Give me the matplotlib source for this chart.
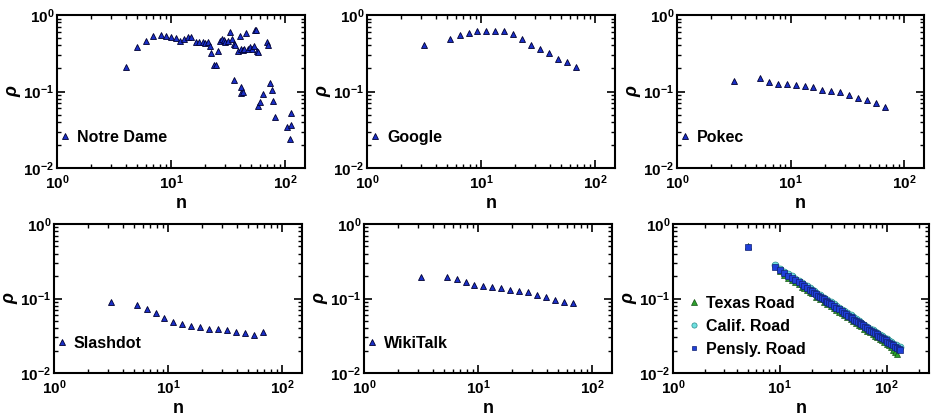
import matplotlib.pyplot as plt
from matplotlib.ticker import LogLocator

plt.rcParams.update({
    "font.family": "Liberation Sans",
    "font.weight": "bold",
    "mathtext.fontset": "custom",
    "mathtext.rm": "Liberation Sans:bold",
    "mathtext.it": "Liberation Sans:bold:italic",
    "mathtext.bf": "Liberation Sans:bold",
    "mathtext.default": "bf",
    "axes.linewidth": 1.5,
    "xtick.direction": "in",
    "ytick.direction": "in",
    "xtick.top": True,
    "ytick.right": True,
})

# Notre Dame
nd_n = [4.0, 5.0, 6.0, 7.0, 8.1, 9.0, 10, 11, 12, 13, 14, 15, 16.5, 17.7, 19, 20, 21, 22,
        22.6, 23.8, 25, 25.8, 27, 28, 29, 30, 31.5, 33, 34, 35.6, 36.7, 38.6, 40, 41, 42.5,
        44, 46, 47.8, 49, 51.5, 53, 54.5, 56, 56.5, 58.5, 69, 70.5,
        36, 41.5, 41.5, 43, 58.5, 60, 64, 74.7, 76.5, 78, 82, 105, 112, 112, 110]
nd_rho = [0.21, 0.38, 0.46, 0.53, 0.54, 0.53, 0.52, 0.50, 0.46, 0.49, 0.52, 0.51, 0.44, 0.44,
          0.45, 0.43, 0.45, 0.39, 0.32, 0.22, 0.22, 0.34, 0.46, 0.49, 0.47, 0.44, 0.46, 0.60,
          0.48, 0.42, 0.41, 0.34, 0.53, 0.36, 0.35, 0.36, 0.59, 0.36, 0.38, 0.36, 0.39, 0.64,
          0.64, 0.34, 0.33, 0.44, 0.41,
          0.142, 0.114, 0.095, 0.10, 0.065, 0.072, 0.093, 0.131, 0.105, 0.075, 0.047, 0.034,
          0.037, 0.053, 0.024]

# binned networks share the same n positions
bin_n = [3.16, 5.4, 6.5, 7.8, 9.3, 11.1, 13.3, 15.9, 19.1, 22.9, 27.5, 32.9, 39.4, 47.2, 56.6, 67.8]
google_rho = [0.41, 0.49, 0.55, 0.59, 0.61, 0.62, 0.62, 0.62, 0.57, 0.48, 0.41, 0.36, 0.32,
              0.27, 0.245, 0.206]
pokec_rho = [0.139, 0.149, 0.135, 0.127, 0.126, 0.122, 0.119, 0.114, 0.106, 0.103, 0.0995,
             0.091, 0.083, 0.078, 0.070, 0.063]
slashdot_rho = [0.091, 0.082, 0.073, 0.064, 0.054, 0.049, 0.045, 0.043, 0.041, 0.039, 0.039,
                0.038, 0.036, 0.034, 0.032, 0.036]
wikitalk_rho = [0.195, 0.195, 0.183, 0.166, 0.151, 0.149, 0.142, 0.140, 0.132, 0.125, 0.124,
                0.113, 0.104, 0.095, 0.091, 0.086]

# road networks
texas_n = [5, 10, 11, 12, 13, 14, 15, 16, 17, 18, 19, 20, 22, 24, 26, 28, 30, 32, 34, 36, 38,
           40, 43, 46, 49, 52, 55, 58, 62, 66, 70, 74, 78, 82, 86, 90, 95, 100, 105, 110, 115,
           120, 126]
texas_rho = [0.50, 0.232, 0.206, 0.190, 0.178, 0.164, 0.155, 0.144, 0.138, 0.129, 0.123, 0.117,
             0.106, 0.098, 0.0910, 0.0850, 0.0795, 0.0748, 0.0706, 0.0668, 0.0634, 0.0604,
             0.0563, 0.0528, 0.0496, 0.0468, 0.0443, 0.0421, 0.0394, 0.0371, 0.0350, 0.0331,
             0.0315, 0.0300, 0.0286, 0.0274, 0.0259, 0.0246, 0.0234, 0.0222, 0.0205, 0.0190,
             0.0182]
calif_n = [9, 10, 11, 12, 13, 14, 15, 16, 17, 18, 19, 20, 21, 22, 24, 26, 28, 30, 32, 34, 36,
           38, 40, 43, 46, 49, 52, 55, 58, 62, 66, 70, 74, 78, 82, 86, 90, 95, 100, 105, 110,
           116, 122, 128, 135]
calif_rho = [0.282, 0.250, 0.228, 0.212, 0.198, 0.184, 0.173, 0.162, 0.154, 0.146, 0.138, 0.132,
             0.126, 0.120, 0.111, 0.102, 0.0955, 0.0890, 0.0838, 0.0790, 0.0748, 0.0710, 0.0676,
             0.0630, 0.0592, 0.0557, 0.0526, 0.0498, 0.0473, 0.0444, 0.0418, 0.0395, 0.0375,
             0.0357, 0.0340, 0.0325, 0.0311, 0.0296, 0.0282, 0.0270, 0.0258, 0.0245, 0.0234,
             0.0226, 0.0222]
pensly_n = [5, 9, 10, 11, 12, 13, 14, 15, 16, 17, 18, 19, 20, 21, 22, 23, 24, 25, 26, 27, 28, 29,
            30, 32, 34, 36, 38, 40, 42, 44, 46, 48, 50, 52, 54, 56, 58, 60, 63, 66, 69, 72, 75,
            78, 81, 84, 87, 90, 94, 98, 102, 106, 110, 115, 120, 125, 130, 135]
pensly_rho = [0.49, 0.268, 0.242, 0.221, 0.203, 0.189, 0.176, 0.164, 0.155, 0.146, 0.138, 0.131,
              0.125, 0.119, 0.114, 0.109, 0.105, 0.101, 0.0973, 0.0939, 0.0906, 0.0877, 0.0849,
              0.0798, 0.0753, 0.0713, 0.0677, 0.0645, 0.0616, 0.0589, 0.0564, 0.0542, 0.0521,
              0.0502, 0.0485, 0.0467, 0.0452, 0.0438, 0.0418, 0.0400, 0.0383, 0.0368, 0.0353,
              0.0341, 0.0329, 0.0317, 0.0307, 0.0297, 0.0285, 0.0274, 0.0264, 0.0255, 0.0245,
              0.0236, 0.0226, 0.0218, 0.0209, 0.0201]

blue = "#1a2fc8"

fig = plt.figure(figsize=(9.31, 4.2), dpi=100)
W, H = 931, 420
# axes boxes in pixels: left, top, right, bottom
boxes = [(57, 15, 305, 168), (367, 15, 615, 168), (677, 15, 924, 168),
         (54, 224, 302, 373), (364, 224, 612, 373), (673, 224, 929, 373)]
axes = [fig.add_axes([l / W, 1 - b / H, (r - l) / W, (b - t) / H]) for l, t, r, b in boxes]


def style(ax, xmax):
    ax.set_xscale("log")
    ax.set_yscale("log")
    ax.set_xlim(1, xmax)
    ax.set_ylim(0.01, 1)
    ax.xaxis.set_major_locator(LogLocator(base=10, numticks=5))
    ax.yaxis.set_major_locator(LogLocator(base=10, numticks=5))
    ax.xaxis.set_minor_locator(LogLocator(base=10, subs=range(2, 10), numticks=20))
    ax.yaxis.set_minor_locator(LogLocator(base=10, subs=range(2, 10), numticks=20))
    ax.tick_params(which="major", length=6, width=1.2, labelsize=11, pad=2)
    ax.tick_params(axis="x", which="major", pad=4)
    ax.tick_params(which="minor", length=3, width=1.0)
    ax.set_xlabel("n", fontsize=13, fontweight="bold", labelpad=2)
    ax.set_ylabel("ρ", fontsize=13, fontweight="bold", fontstyle="italic", labelpad=1)


panels = [(nd_n, nd_rho, "Notre Dame"), (bin_n, google_rho, "Google"),
          (bin_n, pokec_rho, "Pokec"), (bin_n, slashdot_rho, "Slashdot"),
          (bin_n, wikitalk_rho, "WikiTalk")]
for ax, (x, y, name) in zip(axes[:5], panels):
    ax.plot(x, y, "^", ms=5, color=blue, mec="#000030", mew=0.6, label=name)
    style(ax, 150)
    ax.legend(loc="center left", bbox_to_anchor=(0.0, 0.2), frameon=False, fontsize=11.5,
              borderaxespad=0, borderpad=0, handlelength=1.0, handletextpad=0.25,
              markerscale=0.75)

ax = axes[5]
ax.plot(texas_n, texas_rho, "^", ms=5, color="#2ca02c", mec="#145214", mew=0.5, label="Texas Road")
ax.plot(calif_n, calif_rho, "o", ms=5, color="#6fe0e0", mec="#2a8a8a", mew=0.5, label="Calif. Road")
ax.plot(pensly_n, pensly_rho, "s", ms=4.5, color="#1f3fd8", mec="#102070", mew=0.5, label="Pensly. Road")
style(ax, 250)
ax.legend(loc="center left", bbox_to_anchor=(0.05, 0.315), frameon=False, fontsize=11.5,
          borderaxespad=0, borderpad=0, handlelength=1.0, handletextpad=0.25,
          markerscale=0.75, labelspacing=0.5)

fig.savefig("out.png", dpi=100)
